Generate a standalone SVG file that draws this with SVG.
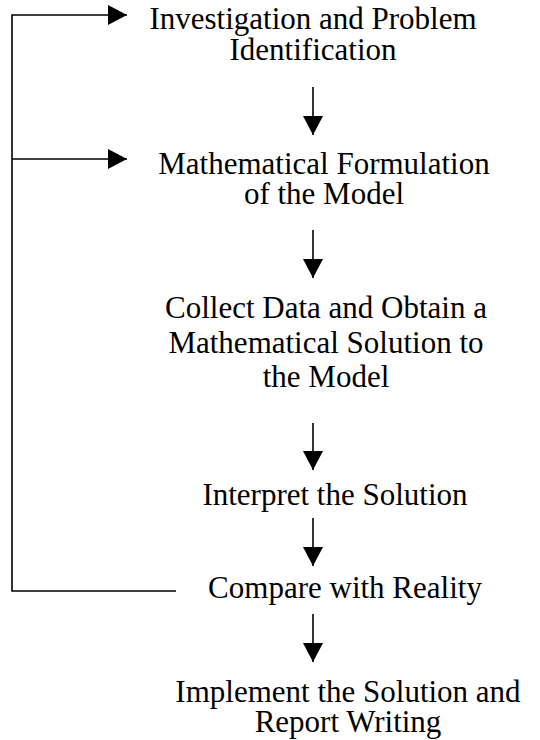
<svg xmlns="http://www.w3.org/2000/svg" width="540" height="740" viewBox="0 0 540 740">
  <style>
    .lbl { font-family: "Liberation Serif", "Times New Roman", serif; font-size: 31px; fill: #000; text-anchor: middle; }
    .conn { stroke: #000; stroke-width: 1.6; fill: none; }
  </style>
  <defs>
    <marker id="ah" viewBox="0 0 19 20" refX="19" refY="10" markerWidth="19" markerHeight="20" markerUnits="userSpaceOnUse" orient="auto">
      <path d="M0,0 L19,10 L0,20 z" fill="#000"/>
    </marker>
  </defs>
  <rect width="540" height="740" fill="#fff"/>
  <g id="connectors">
    <line class="conn" x1="313" y1="87" x2="313" y2="135" marker-end="url(#ah)"/>
    <line class="conn" x1="313" y1="230" x2="313" y2="278" marker-end="url(#ah)"/>
    <line class="conn" x1="313" y1="423" x2="313" y2="470" marker-end="url(#ah)"/>
    <line class="conn" x1="313" y1="518" x2="313" y2="566" marker-end="url(#ah)"/>
    <line class="conn" x1="313" y1="614" x2="313" y2="662" marker-end="url(#ah)"/>
    <polyline class="conn" points="176,591 12,591 12,15 127,15" marker-end="url(#ah)"/>
    <line class="conn" x1="12" y1="159" x2="127" y2="159" marker-end="url(#ah)"/>
  </g>
  <g id="n1">
    <text class="lbl" x="313" y="29">Investigation and Problem</text>
    <text class="lbl" x="313" y="60">Identification</text>
  </g>
  <g id="n2">
    <text class="lbl" x="324" y="174">Mathematical Formulation</text>
    <text class="lbl" x="324" y="204">of the Model</text>
  </g>
  <g id="n3">
    <text class="lbl" x="326" y="318">Collect Data and Obtain a</text>
    <text class="lbl" x="326" y="353">Mathematical Solution to</text>
    <text class="lbl" x="326" y="387">the Model</text>
  </g>
  <g id="n4">
    <text class="lbl" x="335" y="505">Interpret the Solution</text>
  </g>
  <g id="n5">
    <text class="lbl" x="345" y="598">Compare with Reality</text>
  </g>
  <g id="n6">
    <text class="lbl" x="348" y="702">Implement the Solution and</text>
    <text class="lbl" x="348" y="732">Report Writing</text>
  </g>
</svg>
